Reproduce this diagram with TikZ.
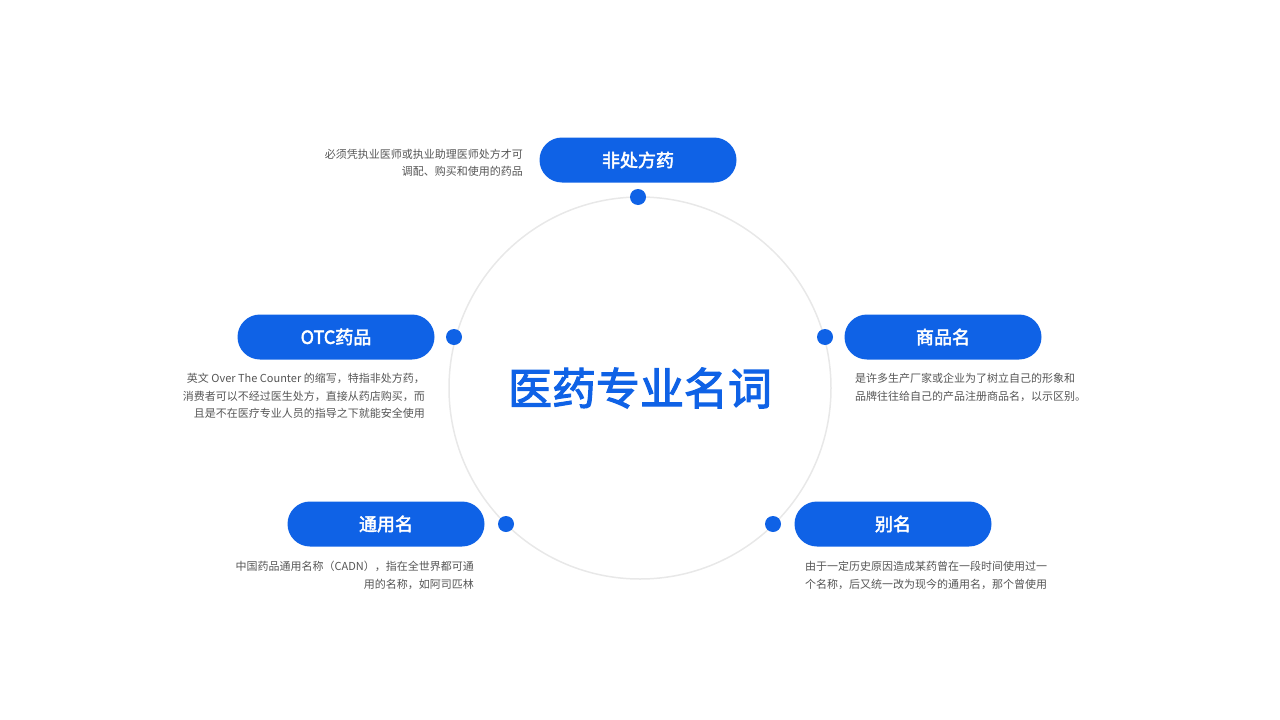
\documentclass[tikz,border=0pt]{standalone}
\usepackage{fontspec}
\setmainfont{Liberation Sans}
\newfontfamily\cjk[AutoFakeBold=2.5]{Noto Sans CJK SC}
\usetikzlibrary{positioning}
\definecolor{medblue}{HTML}{0F62E6}
\definecolor{ringgray}{HTML}{E8E8E8}
\definecolor{txtgray}{HTML}{555555}
\tikzset{
  pill/.style={rounded corners=22.5pt, fill=medblue, minimum width=197pt, minimum height=45pt,
    text=white, font=\cjk\bfseries\fontsize{18}{20}\selectfont},
  dot/.style={circle, fill=medblue, minimum size=16pt, inner sep=0pt},
  note/.style={text=txtgray, font=\cjk\fontsize{11}{17.5}\selectfont, inner sep=0pt}
}
\begin{document}
\begin{tikzpicture}[x=1pt,y=-1pt]
  \useasboundingbox (0,0) rectangle (1280,720);
  % 圆环
  \coordinate (ctr) at (640,388);
  \draw[ringgray, line width=1.5pt] (ctr) circle (191);
  \node[text=medblue, font=\cjk\bfseries\fontsize{44}{48}\selectfont] (title) at (ctr) {医药专业名词};

  % 圆点
  \node[dot] (d1) at (638,197) {};
  \node[dot] (d2) at (454,337) {};
  \node[dot] (d3) at (825,337) {};
  \node[dot] (d4) at (506,524) {};
  \node[dot] (d5) at (773,524) {};

  % 标签
  \node[pill] (p1) at (638,160) {非处方药};
  \node[pill] (p2) at (336,337) {OTC药品};
  \node[pill] (p3) at (943,337) {商品名};
  \node[pill] (p4) at (386,524) {通用名};
  \node[pill] (p5) at (893,524) {别名};

  % 说明文字
  \node[note, align=right, anchor=east] (n1) at (523,163) {必须凭执业医师或执业助理医师处方才可\\调配、购买和使用的药品};
  \node[note, align=right, anchor=north east] (n2) at (425,373) {英文 Over The Counter 的缩写，特指非处方药，\\消费者可以不经过医生处方，直接从药店购买，而\\且是不在医疗专业人员的指导之下就能安全使用};
  \node[note, align=left, anchor=north west] (n3) at (855,373) {是许多生产厂家或企业为了树立自己的形象和\\品牌往往给自己的产品注册商品名，以示区别。};
  \node[note, align=right, anchor=north east] (n4) at (474,561) {中国药品通用名称（CADN），指在全世界都可通\\用的名称，如阿司匹林};
  \node[note, align=left, anchor=north west] (n5) at (805,561) {由于一定历史原因造成某药曾在一段时间使用过一\\个名称，后又统一改为现今的通用名，那个曾使用};
\end{tikzpicture}
\end{document}
